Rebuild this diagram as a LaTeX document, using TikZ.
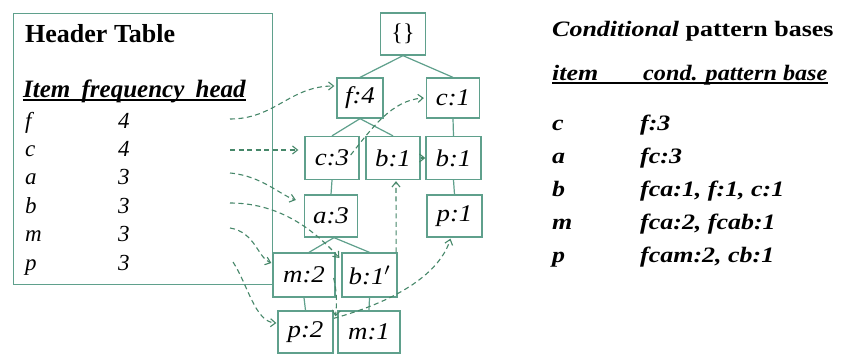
\documentclass[tikz,border=0pt]{standalone}
\usepackage{fontspec}
\setmainfont{Liberation Serif}
\usetikzlibrary{arrows.meta,calc}
\definecolor{boxgreen}{RGB}{95,160,140}
\definecolor{linkgreen}{RGB}{70,135,105}
\begin{document}
\begin{tikzpicture}[x=1pt,y=-1pt,
  tbox/.style={draw=boxgreen,line width=1.3pt,inner sep=0pt,font=\fontsize{24}{27}\selectfont\itshape},
  tedge/.style={draw=boxgreen,line width=1.2pt},
  link/.style={draw=linkgreen,line width=1.1pt,dash pattern=on 5pt off 3.5pt,-{Straight Barb[length=5pt,width=8pt]}},
  htxt/.style={anchor=base west,inner sep=0pt,font=\fontsize{23}{26}\selectfont\itshape},
  rtxt/.style={anchor=base west,inner sep=0pt,font=\fontsize{22}{26}\selectfont\bfseries\itshape}
]
\useasboundingbox (0,0) rectangle (843,356);
\fill[white] (0,0) rectangle (843,356);

% header table
\node[draw=boxgreen,line width=1.3pt,minimum width=259pt,minimum height=271pt,anchor=north west,inner sep=0pt] (ht) at (13,13) {};
\node[anchor=base west,inner sep=0pt,font=\fontsize{26}{29}\selectfont\bfseries] (httitle) at (25,42) {Header Table};
\node[anchor=base west,inner sep=0pt,font=\fontsize{25}{28}\selectfont\bfseries\itshape] (hthead) at (23,97) {Item\hspace{0.45em}frequency\hspace{0.45em}head};
\draw[line width=1.8pt] ([yshift=-3pt]hthead.base west) -- ([yshift=-3pt]hthead.base east);

\node[htxt] (hif) at (25,128) {f};   \node[htxt] (hqf) at (118,128) {4};
\node[htxt] (hic) at (25,156.4) {c}; \node[htxt] (hqc) at (118,156.4) {4};
\node[htxt] (hia) at (25,184.8) {a}; \node[htxt] (hqa) at (118,184.8) {3};
\node[htxt] (hib) at (25,213.2) {b}; \node[htxt] (hqb) at (118,213.2) {3};
\node[htxt] (him) at (25,241.6) {m}; \node[htxt] (hqm) at (118,241.6) {3};
\node[htxt] (hip) at (25,270) {p};   \node[htxt] (hqp) at (118,270) {3};

% tree
\node[tbox,minimum width=45pt,minimum height=42pt,font=\fontsize{24}{27}\selectfont\upshape] (root) at (403,34) {\{\}};
\node[tbox,minimum width=46pt,minimum height=40pt] (f4) at (360,98) {\scalebox{1.12}[1]{f:4}};
\node[tbox,minimum width=53pt,minimum height=40pt] (c1) at (453,98) {\scalebox{1.12}[1]{c:1}};
\node[tbox,minimum width=54pt,minimum height=43pt] (c3) at (332,158) {\scalebox{1.12}[1]{c:3}};
\node[tbox,minimum width=54pt,minimum height=43pt] (b1m) at (393,158) {\scalebox{1.12}[1]{b:1}};
\node[tbox,minimum width=55pt,minimum height=43pt] (b1r) at (453.5,158) {\scalebox{1.12}[1]{b:1}};
\node[tbox,minimum width=53pt,minimum height=42pt] (a3) at (331,216) {\scalebox{1.12}[1]{a:3}};
\node[tbox,minimum width=55pt,minimum height=42pt] (p1) at (454.5,216) {\scalebox{1.12}[1]{p:1}};
\node[tbox,minimum width=62pt,minimum height=44pt] (m2) at (304,275) {\scalebox{1.12}[1]{m:2}};
\node[tbox,minimum width=55pt,minimum height=44pt] (b1p) at (369.5,275) {\scalebox{1.12}[1]{b:1$'$}};
\node[tbox,minimum width=55pt,minimum height=42pt] (p2) at (305.5,332) {\scalebox{1.12}[1]{p:2}};
\node[tbox,minimum width=62pt,minimum height=42pt] (m1) at (369,332) {\scalebox{1.12}[1]{m:1}};

\draw[tedge] (root.south) -- (f4.north);
\draw[tedge] (root.south) -- (c1.north);
\draw[tedge] (f4.south) -- (c3.north);
\draw[tedge] (f4.south) -- (b1m.north);
\draw[tedge] (c1.south) -- (b1r.north);
\draw[tedge] (c3.south) -- (a3.north);
\draw[tedge] (b1r.south) -- (p1.north);
\draw[tedge] ([xshift=3pt]a3.south) -- ([xshift=5pt]m2.north);
\draw[tedge] ([xshift=3pt]a3.south) -- (b1p.north);
\draw[tedge] (m2.south) -- (p2.north);
\draw[tedge] (b1p.south) -- (m1.north);

% node links
\coordinate (lf) at (230,119);
\coordinate (lc) at (230,150);
\coordinate (la) at (230,173);
\coordinate (lb) at (230,203);
\coordinate (lm) at (230,228);
\coordinate (lp) at (233,262);
\draw[link] (lf) .. controls (275,119) and (290,86) .. ([xshift=-2pt,yshift=12pt]f4.west);
\draw[link] (lc) -- ([xshift=-6pt,yshift=8pt]c3.west);
\draw[link] (la) .. controls (262,176) and (280,195) .. ([xshift=-8pt,yshift=16pt]a3.west);
\draw[link] (lb) .. controls (275,203) and (310,225) .. ([xshift=-2pt,yshift=17pt]b1p.west);
\draw[link] (lm) .. controls (255,232) and (258,258) .. ([xshift=-1pt,yshift=12pt]m2.west);
\draw[link] (lp) .. controls (248,285) and (255,322) .. ([xshift=-1pt,yshift=9pt]p2.west);
\draw[link] ([xshift=-9pt,yshift=3pt]c3.east) .. controls (372,128) and (392,100) .. ([xshift=-2pt]c1.west);
\draw[link] ([xshift=-1.5pt]b1p.north east) -- ([xshift=3pt,yshift=-1pt]b1m.south);
\draw[link] (b1m.east) -- (b1r.west);
\draw[link] ([xshift=-2pt,yshift=-3pt]m2.east) .. controls (337,292) and (337,305) .. ([xshift=-2pt,yshift=-6pt]m1.north west);
\draw[link] ([yshift=-8pt]p2.north east) .. controls (400,300) and (440,272) .. ([xshift=-4pt,yshift=-1pt]p1.south);

% conditional pattern bases
\node[anchor=base west,inner sep=0pt,font=\fontsize{22}{26}\selectfont\bfseries] (cpbt) at (552,36) {\scalebox{1.18}[1]{\textit{Conditional} pattern bases}};
\node[rtxt] (cpi) at (552,80) {\scalebox{1.18}[1]{item}};
\node[rtxt] (cpc) at (643,80) {\scalebox{1.1}[1]{cond. pattern base}};
\draw[line width=1.8pt] ([yshift=-3pt]cpi.base west) -- ([yshift=-3pt]cpc.base east);

\node[rtxt] (ric) at (552,130) {\scalebox{1.18}[1]{c}}; \node[rtxt] (rbc) at (640,130) {\scalebox{1.18}[1]{f:3}};
\node[rtxt] (ria) at (552,163) {\scalebox{1.18}[1]{a}}; \node[rtxt] (rba) at (640,163) {\scalebox{1.18}[1]{fc:3}};
\node[rtxt] (rib) at (552,196) {\scalebox{1.18}[1]{b}}; \node[rtxt] (rbb) at (640,196) {\scalebox{1.18}[1]{fca:1, f:1, c:1}};
\node[rtxt] (rim) at (552,229) {\scalebox{1.18}[1]{m}}; \node[rtxt] (rbm) at (640,229) {\scalebox{1.18}[1]{fca:2, fcab:1}};
\node[rtxt] (rip) at (552,262) {\scalebox{1.18}[1]{p}}; \node[rtxt] (rbp) at (640,262) {\scalebox{1.18}[1]{fcam:2, cb:1}};
\end{tikzpicture}
\end{document}
